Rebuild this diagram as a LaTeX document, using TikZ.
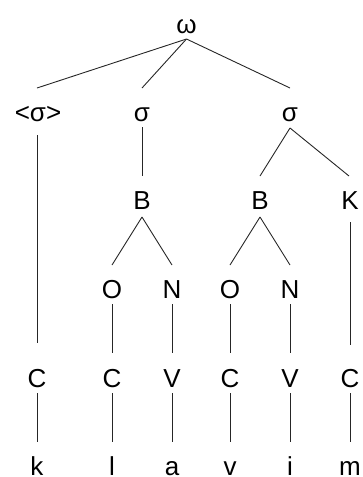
\documentclass[tikz,border=0pt]{standalone}
\usepackage{fontspec}
\setmainfont{Liberation Sans}
\begin{document}
\begin{tikzpicture}[x=1pt,y=1pt,
  lab/.style={anchor=base,inner sep=0pt,font=\fontsize{26}{28}\selectfont},
  edge/.style={draw=black!85,line width=0.9pt}]
\useasboundingbox (0,0) rectangle (363,-477);
% row baselines: 33,121,209,298,387,475
\node[lab] (w) at (186.5,-33) {ω};
\node[lab] (s1) at (38,-121) {<σ>};
\node[lab] (s2) at (142,-121) {σ};
\node[lab] (s3) at (290,-121) {σ};
\node[lab] (b1) at (142,-209) {B};
\node[lab] (b2) at (260,-209) {B};
\node[lab] (k1) at (350,-209) {K};
\node[lab] (o1) at (112,-298) {O};
\node[lab] (n1) at (172,-298) {N};
\node[lab] (o2) at (230,-298) {O};
\node[lab] (n2) at (290,-298) {N};
\node[lab] (c1) at (37,-387) {C};
\node[lab] (c2) at (112,-387) {C};
\node[lab] (v1) at (172,-387) {V};
\node[lab] (c3) at (230,-387) {C};
\node[lab] (v2) at (290,-387) {V};
\node[lab] (c4) at (350,-387) {C};
\node[lab] (t1) at (37,-475) {k};
\node[lab] (t2) at (112,-475) {l};
\node[lab] (t3) at (172,-475) {a};
\node[lab] (t4) at (230,-475) {v};
\node[lab] (t5) at (290,-475) {i};
\node[lab] (t6) at (350,-475) {m};
% connectors
\path[edge] ([yshift=-6pt]w.base) -- ([xshift=-1pt,yshift=33pt]s1.base);
\path[edge] ([yshift=-6pt]w.base) -- ([yshift=33pt]s2.base);
\path[edge] ([yshift=-6pt]w.base) -- ([yshift=33pt]s3.base);
\path[edge] ([xshift=-1pt,yshift=-14pt]s1.base) -- ([yshift=44pt]c1.base);
\path[edge] ([yshift=-6pt]s2.base) -- ([yshift=33pt]b1.base);
\path[edge] ([yshift=-7pt]s3.base) -- ([yshift=33pt]b2.base);
\path[edge] ([yshift=-7pt]s3.base) -- ([xshift=-1pt,yshift=33pt]k1.base);
\path[edge] ([yshift=-8pt]b1.base) -- ([yshift=33pt]o1.base);
\path[edge] ([yshift=-8pt]b1.base) -- ([yshift=33pt]n1.base);
\path[edge] ([yshift=-8pt]b2.base) -- ([yshift=33pt]o2.base);
\path[edge] ([yshift=-8pt]b2.base) -- ([yshift=33pt]n2.base);
\path[edge] ([yshift=-13pt]k1.base) -- ([yshift=42pt]c4.base);
\path[edge] ([yshift=-6pt]o1.base) -- ([yshift=34pt]c2.base);
\path[edge] ([yshift=-6pt]n1.base) -- ([yshift=34pt]v1.base);
\path[edge] ([yshift=-6pt]o2.base) -- ([yshift=34pt]c3.base);
\path[edge] ([yshift=-6pt]n2.base) -- ([yshift=34pt]v2.base);
\path[edge] ([yshift=-6pt]c1.base) -- ([yshift=33pt]t1.base);
\path[edge] ([yshift=-6pt]c2.base) -- ([yshift=33pt]t2.base);
\path[edge] ([yshift=-6pt]v1.base) -- ([yshift=33pt]t3.base);
\path[edge] ([yshift=-6pt]c3.base) -- ([yshift=33pt]t4.base);
\path[edge] ([yshift=-6pt]v2.base) -- ([yshift=33pt]t5.base);
\path[edge] ([yshift=-6pt]c4.base) -- ([yshift=33pt]t6.base);
\end{tikzpicture}
\end{document}
